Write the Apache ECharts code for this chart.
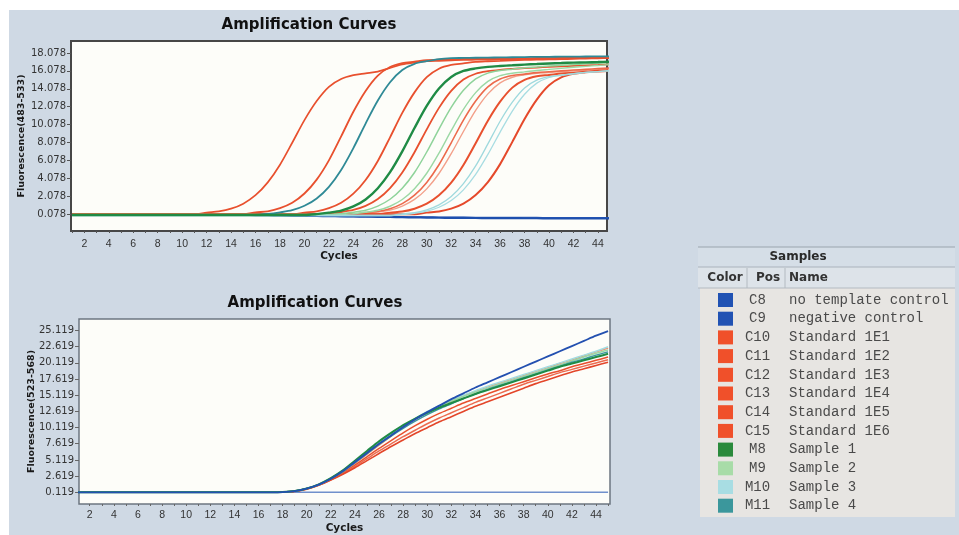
<!DOCTYPE html>
<html>
<head>
<meta charset="utf-8">
<script src="https://cdn.jsdelivr.net/npm/echarts@6/dist/echarts.min.js"></script>
<style>
html,body{margin:0;padding:0;background:#fff;}
#c{width:959px;height:535px;
background:linear-gradient(#fff,#fff) 0 0/100% 10px no-repeat,linear-gradient(#fff,#fff) 0 0/9px 100% no-repeat,#cfd9e4;}
</style>
</head>
<body>
<div id="c"></div>
<script>
// ---------- data ----------
const cycles = [1,2,3,4,5,6,7,8,9,10,11,12,13,14,15,16,17,18,19,20,21,22,23,24,25,26,27,28,29,30,31,32,33,34,35,36,37,38,39,40,41,42,43,44,45];
const xTickLabels = [2,4,6,8,10,12,14,16,18,20,22,24,26,28,30,32,34,36,38,40,42,44];
const topYTicks = [0.078,2.078,4.078,6.078,8.078,10.078,12.078,14.078,16.078,18.078];
const botYTicks = [0.119,2.619,5.119,7.619,10.119,12.619,15.119,17.619,20.119,22.619,25.119];

const samplePos   = ['C8','C9','C10','C11','C12','C13','C14','C15','M8','M9','M10','M11'];
const sampleNames = ['no template control','negative control','Standard 1E1','Standard 1E2','Standard 1E3','Standard 1E4','Standard 1E5','Standard 1E6','Sample 1','Sample 2','Sample 3','Sample 4'];
const sampleColors = ['#2152b3','#2152b3','#f0502a','#f0502a','#f0502a','#f0502a','#f0502a','#f0502a','#2a8a3c','#a8dca8','#a8dde3','#3b979c'];

// Fluorescence (483-533), one value per cycle
const topNTC = [0.08,0.08,0.08,0.08,0.08,0.08,0.08,0.08,0.08,0.08,
 0.08,0.08,0.06,0.04,0.02,0,-0.02,-0.04,-0.06,-0.08,
 -0.1,-0.12,-0.14,-0.16,-0.18,-0.2,-0.22,-0.24,-0.26,-0.28,
 -0.3,-0.31,-0.32,-0.33,-0.34,-0.35,-0.35,-0.36,-0.36,-0.37,
 -0.37,-0.38,-0.38,-0.38,-0.38];
const topNeg = [0.08,0.08,0.08,0.08,0.08,0.08,0.08,0.08,0.08,0.08,
 0.08,0.08,0.08,0.08,0.05,0.02,0,-0.03,-0.05,-0.08,
 -0.1,-0.12,-0.14,-0.15,-0.17,-0.18,-0.2,-0.21,-0.22,-0.23,
 -0.24,-0.25,-0.26,-0.27,-0.27,-0.28,-0.28,-0.29,-0.29,-0.3,
 -0.3,-0.3,-0.31,-0.31,-0.31];
const topA = [0.08,0.08,0.08,0.08,0.08,0.08,0.08,0.08,0.08,0.08,
 0.08,0.27,0.40,0.71,1.27,2.21,3.64,5.61,8.06,10.59,
 12.72,14.30,15.17,15.6,15.8,16.0,16.4,16.8,17.0,17.15,
 17.2,17.25,17.3,17.32,17.34,17.36,17.38,17.4,17.43,17.46,
 17.49,17.52,17.55,17.58,17.6];
const topB = [0.08,0.08,0.08,0.08,0.08,0.08,0.08,0.08,0.08,0.08,
 0.08,0.08,0.08,0.08,0.08,0.29,0.42,0.77,1.37,2.40,
 3.95,6.10,8.77,11.52,13.84,15.56,16.51,16.94,17.11,17.28,
 17.32,17.36,17.4,17.42,17.44,17.46,17.48,17.5,17.52,17.54,
 17.56,17.58,17.6,17.62,17.64];
const topTeal = [0.02,0.02,0.02,0.02,0.02,0.02,0.02,0.02,0.02,0.02,
 0.02,0.02,0.02,0.02,0.02,0.02,0.12,0.30,0.54,1.03,
 1.85,3.15,5.03,7.47,10.2,12.77,14.81,16.17,16.86,17.16,
 17.4,17.5,17.52,17.54,17.56,17.58,17.6,17.62,17.64,17.65,
 17.66,17.67,17.68,17.69,17.7];
const topC = [0.08,0.08,0.08,0.08,0.08,0.08,0.08,0.08,0.08,0.08,
 0.08,0.08,0.08,0.08,0.08,0.08,0.08,0.08,0.08,0.28,
 0.42,0.76,1.36,2.38,3.91,6.03,8.67,11.39,13.68,15.38,
 16.32,16.74,16.91,17.08,17.15,17.2,17.25,17.3,17.33,17.36,
 17.39,17.42,17.45,17.48,17.5];
const topGreen = [0,0,0,0,0,0,0,0,0,0,
 0,0,0,0,0,0,0,0,0,0,
 0.1,0.27,0.5,0.96,1.74,2.99,4.78,7.10,9.71,12.17,
 14.11,15.40,16.07,16.35,16.52,16.62,16.7,16.78,16.84,16.9,
 16.95,17.0,17.03,17.06,17.1];
const topD = [0.08,0.08,0.08,0.08,0.08,0.08,0.08,0.08,0.08,0.08,
 0.08,0.08,0.08,0.08,0.08,0.08,0.08,0.08,0.08,0.08,
 0.08,0.18,0.34,0.57,1.02,1.78,3.00,4.75,7.01,9.56,
 11.95,13.85,15.11,15.76,16.04,16.2,16.3,16.38,16.45,16.52,
 16.58,16.64,16.7,16.75,16.8];
const topLG1 = [0.05,0.05,0.05,0.05,0.05,0.05,0.05,0.05,0.05,0.05,
 0.05,0.05,0.05,0.05,0.05,0.05,0.05,0.05,0.05,0.05,
 0.05,0.05,0.15,0.31,0.54,1.0,1.76,2.98,4.74,7.03,
 9.59,12.0,13.91,15.18,15.83,16.11,16.27,16.42,16.52,16.62,
 16.7,16.78,16.86,16.93,17.0];
const topLG2 = [0.05,0.05,0.05,0.05,0.05,0.05,0.05,0.05,0.05,0.05,
 0.05,0.05,0.05,0.05,0.05,0.05,0.05,0.05,0.05,0.05,
 0.05,0.05,0.05,0.15,0.31,0.53,0.98,1.73,2.93,4.66,
 6.9,9.41,11.78,13.65,14.9,15.54,15.81,15.97,16.12,16.24,
 16.36,16.48,16.58,16.68,16.78];
const topE1 = [0.08,0.08,0.08,0.08,0.08,0.08,0.08,0.08,0.08,0.08,
 0.08,0.08,0.08,0.08,0.08,0.08,0.08,0.08,0.08,0.08,
 0.08,0.08,0.08,0.08,0.27,0.40,0.71,1.27,2.21,3.64,
 5.61,8.06,10.59,12.72,14.30,15.17,15.56,15.72,15.88,15.98,
 16.08,16.17,16.25,16.33,16.4];
const topE2 = [0.08,0.08,0.08,0.08,0.08,0.08,0.08,0.08,0.08,0.08,
 0.08,0.08,0.08,0.08,0.08,0.08,0.08,0.08,0.08,0.08,
 0.08,0.08,0.08,0.08,0.17,0.33,0.55,1.0,1.74,2.92,
 4.63,6.84,9.32,11.66,13.51,14.74,15.37,15.64,15.8,15.9,
 16.0,16.08,16.15,16.22,16.3];
const topF = [0.08,0.08,0.08,0.08,0.08,0.08,0.08,0.08,0.08,0.08,
 0.08,0.08,0.08,0.08,0.08,0.08,0.08,0.08,0.08,0.08,
 0.08,0.08,0.08,0.08,0.08,0.08,0.27,0.39,0.71,1.26,
 2.20,3.61,5.58,8.01,10.52,12.64,14.21,15.07,15.47,15.62,
 15.78,15.88,15.98,16.08,16.15];
const topCy1 = [-0.05,-0.05,-0.05,-0.05,-0.05,-0.05,-0.05,-0.05,-0.05,-0.05,
 -0.05,-0.05,-0.05,-0.05,-0.05,-0.05,-0.05,-0.05,-0.05,-0.05,
 -0.05,-0.05,-0.05,-0.05,-0.05,-0.05,-0.05,0.14,0.27,0.58,
 1.14,2.08,3.51,5.48,7.93,10.46,12.59,14.17,15.04,15.43,
 15.59,15.75,15.9,16.0,16.1];
const topCy2 = [-0.05,-0.05,-0.05,-0.05,-0.05,-0.05,-0.05,-0.05,-0.05,-0.05,
 -0.05,-0.05,-0.05,-0.05,-0.05,-0.05,-0.05,-0.05,-0.05,-0.05,
 -0.05,-0.05,-0.05,-0.05,-0.05,-0.05,-0.05,0.05,0.20,0.43,
 0.87,1.62,2.81,4.53,6.76,9.25,11.6,13.47,14.71,15.34,
 15.61,15.77,15.9,16.0,16.1];
const topG = [0.08,0.08,0.08,0.08,0.08,0.08,0.08,0.08,0.08,0.08,
 0.08,0.08,0.08,0.08,0.08,0.08,0.08,0.08,0.08,0.08,
 0.08,0.08,0.08,0.08,0.08,0.08,0.08,0.08,0.08,0.27,
 0.40,0.72,1.28,2.24,3.68,5.68,8.16,10.72,12.88,14.48,
 15.36,15.76,15.92,16.0,16.08];

// Fluorescence (523-568), one value per cycle
const botNTC = [0.12,0.12,0.12,0.12,0.12,0.12,0.12,0.12,0.12,0.12,
 0.12,0.12,0.12,0.12,0.12,0.12,0.12,0.15,0.3,0.7,
 1.3,2.2,3.4,4.8,6.2,7.6,8.9,10.2,11.4,12.5,
 13.5,14.5,15.4,16.3,17.1,17.9,18.7,19.5,20.3,21.1,
 21.9,22.7,23.5,24.3,25.0];
const botNeg = [0.119,0.119,0.119,0.119,0.119,0.119,0.119,0.119,0.119,0.119,
 0.119,0.119,0.119,0.119,0.119,0.119,0.119,0.119,0.119,0.119,
 0.119,0.119,0.119,0.119,0.119,0.119,0.119,0.119,0.119,0.119,
 0.119,0.119,0.119,0.119,0.119,0.119,0.119,0.119,0.119,0.119,
 0.119,0.119,0.119,0.119,0.119];
const botR1 = [0.12,0.12,0.12,0.12,0.12,0.12,0.12,0.12,0.12,0.12,
 0.12,0.12,0.12,0.12,0.12,0.12,0.12,0.15,0.3,0.7,
 1.3,2.2,3.3,4.6,6.0,7.4,8.8,10.2,11.4,12.5,
 13.4,14.2,15.0,15.7,16.4,17.0,17.6,18.2,18.8,19.4,
 20.0,20.6,21.2,21.8,22.4];
const botR2 = [0.12,0.12,0.12,0.12,0.12,0.12,0.12,0.12,0.12,0.12,
 0.12,0.12,0.12,0.12,0.12,0.12,0.12,0.14,0.28,0.65,
 1.25,2.1,3.1,4.3,5.6,6.9,8.1,9.3,10.4,11.4,
 12.3,13.1,13.9,14.6,15.3,16.0,16.6,17.2,17.8,18.4,
 18.9,19.5,20.0,20.5,21.0];
const botR3 = [0.12,0.12,0.12,0.12,0.12,0.12,0.12,0.12,0.12,0.12,
 0.12,0.12,0.12,0.12,0.12,0.12,0.12,0.13,0.25,0.6,
 1.2,2.0,2.9,3.9,5.0,6.1,7.2,8.2,9.2,10.1,
 11.0,11.8,12.6,13.4,14.1,14.8,15.5,16.2,16.9,17.5,
 18.1,18.7,19.2,19.7,20.2];
const botR4 = [0.12,0.12,0.12,0.12,0.12,0.12,0.12,0.12,0.12,0.12,
 0.12,0.12,0.12,0.12,0.12,0.12,0.12,0.14,0.27,0.62,
 1.22,2.05,3.0,4.1,5.3,6.5,7.6,8.7,9.7,10.7,
 11.6,12.4,13.2,14.0,14.7,15.4,16.1,16.8,17.4,18.0,
 18.6,19.1,19.6,20.1,20.6];
const botGreen = [0.12,0.12,0.12,0.12,0.12,0.12,0.12,0.12,0.12,0.12,
 0.12,0.12,0.12,0.12,0.12,0.12,0.12,0.15,0.3,0.7,
 1.35,2.3,3.5,5.0,6.5,8.0,9.3,10.5,11.5,12.4,
 13.2,13.9,14.6,15.3,15.9,16.5,17.1,17.7,18.3,18.9,
 19.5,20.0,20.5,21.0,21.5];
const botLG = [0.12,0.12,0.12,0.12,0.12,0.12,0.12,0.12,0.12,0.12,
 0.12,0.12,0.12,0.12,0.12,0.12,0.12,0.15,0.3,0.7,
 1.35,2.3,3.5,4.9,6.4,7.9,9.2,10.4,11.5,12.5,
 13.4,14.2,14.9,15.6,16.2,16.8,17.4,18.0,18.6,19.2,
 19.8,20.4,21.0,21.6,22.1];
const botCyan = [0.12,0.12,0.12,0.12,0.12,0.12,0.12,0.12,0.12,0.12,
 0.12,0.12,0.12,0.12,0.12,0.12,0.12,0.15,0.3,0.7,
 1.3,2.25,3.4,4.8,6.2,7.7,9.0,10.3,11.5,12.6,
 13.5,14.3,15.1,15.8,16.5,17.1,17.7,18.3,18.9,19.5,
 20.1,20.7,21.3,21.9,22.6];
const botTeal = [0.12,0.12,0.12,0.12,0.12,0.12,0.12,0.12,0.12,0.12,
 0.12,0.12,0.12,0.12,0.12,0.12,0.12,0.15,0.3,0.7,
 1.3,2.2,3.3,4.7,6.1,7.5,8.8,10.0,11.1,12.1,
 13.0,13.8,14.6,15.3,16.0,16.6,17.2,17.8,18.4,19.0,
 19.6,20.2,20.7,21.3,21.8];

// ---------- series ----------
function mk(name, arr, grid, color, width) {
  return {
    type: 'line', name: name, xAxisIndex: grid, yAxisIndex: grid,
    data: cycles.map((c, i) => [c, arr[i]]),
    showSymbol: false, smooth: 0.3, silent: true,
    lineStyle: { color: color, width: width }, itemStyle: { color: color }
  };
}
const series = [
  mk('negative control', topNeg, 0, '#3a63b8', 1.6),
  mk('no template control', topNTC, 0, '#1d4fae', 2.2),
  mk('Standard 1E2', topE2, 0, '#f3a08a', 1.4),
  mk('Standard 1E2', topE1, 0, '#ec6a4c', 1.6),
  mk('Standard 1E1', topF, 0, '#e8502e', 2.0),
  mk('Standard 1E1', topG, 0, '#e5492b', 2.0),
  mk('Standard 1E3', topD, 0, '#e8502e', 1.8),
  mk('Standard 1E4', topC, 0, '#e8502e', 1.8),
  mk('Standard 1E5', topB, 0, '#e8502e', 1.8),
  mk('Standard 1E6', topA, 0, '#e8502e', 1.7),
  mk('Sample 2', topLG2, 0, '#9bd8a4', 1.4),
  mk('Sample 2', topLG1, 0, '#8fd39a', 1.5),
  mk('Sample 3', topCy2, 0, '#a8dde2', 1.3),
  mk('Sample 3', topCy1, 0, '#9fd9dd', 1.3),
  mk('Sample 4', topTeal, 0, '#2f8a96', 1.8),
  mk('Sample 1', topGreen, 0, '#1f8b45', 2.4),

  mk('negative control', botNeg, 1, '#7090cc', 1.5),
  mk('Standard 1E4', botR1, 1, '#ef8e74', 1.5),
  mk('Standard 1E3', botR2, 1, '#e8502e', 1.5),
  mk('Standard 1E2', botR4, 1, '#ec6b50', 1.5),
  mk('Standard 1E1', botR3, 1, '#e3462a', 1.6),
  mk('Sample 3', botCyan, 1, '#a3dce0', 1.5),
  mk('Sample 2', botLG, 1, '#98d7a4', 1.5),
  mk('Sample 4', botTeal, 1, '#3a95a0', 1.5),
  mk('Sample 1', botGreen, 1, '#1f8b45', 2.0),
  mk('no template control', botNTC, 1, '#2350b0', 1.8)
];

// ---------- axes ----------
const lblX = { customValues: xTickLabels, fontFamily: 'Liberation Sans', fontSize: 10.5, color: '#333' };
const nameStyleX = { fontFamily: 'DejaVu Sans', fontWeight: 'bold', fontSize: 10.5, color: '#1a1a1a' };
const nameStyleY = { fontFamily: 'DejaVu Sans', fontWeight: 'bold', fontSize: 9.5, color: '#1a1a1a' };

const option = {
  animation: false,
  backgroundColor: 'transparent',
  grid: [
    { left: 71, top: 41, width: 536, height: 190, show: true, backgroundColor: '#fdfdf9', borderColor: '#474747', borderWidth: 2 },
    { left: 79, top: 319, width: 531, height: 190, show: true, backgroundColor: '#fdfdf9', borderColor: '#6c7580', borderWidth: 1.5 }
  ],
  xAxis: [
    { gridIndex: 0, type: 'value', min: 0.91, max: 44.74, name: 'Cycles', nameLocation: 'middle', nameGap: 20, nameTextStyle: nameStyleX,
      nameMoveOverlap: false,
      axisLine: { show: false, onZero: false }, splitLine: { show: false },
      axisTick: { show: true, customValues: cycles, length: 2, lineStyle: { color: '#555' } },
      axisLabel: Object.assign({ margin: 8 }, lblX) },
    { gridIndex: 1, type: 'value', min: 1.11, max: 45.16, name: 'Cycles', nameLocation: 'middle', nameGap: 19, nameTextStyle: nameStyleX,
      nameMoveOverlap: false,
      axisLine: { show: false, onZero: false }, splitLine: { show: false },
      axisTick: { show: true, customValues: cycles, length: 2, lineStyle: { color: '#666' } },
      axisLabel: Object.assign({ margin: 6 }, lblX) }
  ],
  yAxis: [
    { gridIndex: 0, type: 'value', min: -1.78, max: 19.41, name: 'Fluorescence(483-533)', nameLocation: 'middle', nameGap: 44, nameTextStyle: nameStyleY,
      nameMoveOverlap: false,
      axisLine: { show: false, onZero: false }, splitLine: { show: false },
      axisTick: { show: true, customValues: topYTicks, length: 4, lineStyle: { color: '#555' } },
      axisLabel: { customValues: topYTicks, margin: 5, fontFamily: 'DejaVu Sans', fontSize: 10, color: '#333', formatter: v => v.toFixed(3) } },
    { gridIndex: 1, type: 'value', min: -1.69, max: 26.88, name: 'Fluorescence(523-568)', nameLocation: 'middle', nameGap: 42, nameTextStyle: nameStyleY,
      nameMoveOverlap: false,
      axisLine: { show: false, onZero: false }, splitLine: { show: false },
      axisTick: { show: true, customValues: botYTicks, length: 4, lineStyle: { color: '#666' } },
      axisLabel: { customValues: botYTicks, margin: 5, fontFamily: 'DejaVu Sans', fontSize: 10, color: '#333', formatter: v => v.toFixed(3) } }
  ],
  legend: {
    orient: 'vertical', left: 718, top: 293, itemWidth: 15, itemHeight: 14, itemGap: 4.7,
    icon: 'rect', selectedMode: false, padding: 0,
    itemStyle: { borderWidth: 0 },
    data: sampleNames.map((n, i) => ({ name: n, itemStyle: { color: sampleColors[i], borderWidth: 0 } })),
    formatter: function (name) {
      const i = sampleNames.indexOf(name);
      return '{p|' + samplePos[i] + '}{n|' + name + '}';
    },
    textStyle: {
      rich: {
        p: { width: 39, align: 'right', fontFamily: 'Liberation Mono', fontSize: 14, color: '#4a4a4a', lineHeight: 14 },
        n: { fontFamily: 'Liberation Mono', fontSize: 14, color: '#4a4a4a', lineHeight: 14, padding: [0, 0, 0, 12] }
      }
    }
  },
  graphic: [
    { type: 'text', x: 309, y: 25, style: { text: 'Amplification Curves', font: 'bold 15px "DejaVu Sans"', fill: '#111', align: 'center', verticalAlign: 'middle' } },
    { type: 'text', x: 315, y: 303, style: { text: 'Amplification Curves', font: 'bold 15px "DejaVu Sans"', fill: '#111', align: 'center', verticalAlign: 'middle' } },
    // samples table
    { type: 'rect', shape: { x: 698, y: 247, width: 257, height: 20 }, style: { fill: '#d5dee7' } },
    { type: 'rect', shape: { x: 698, y: 267, width: 257, height: 21 }, style: { fill: '#dde3e9' } },
    { type: 'rect', shape: { x: 700, y: 288, width: 255, height: 229 }, style: { fill: '#e7e5e2' } },
    { type: 'line', shape: { x1: 698, y1: 247, x2: 955, y2: 247 }, style: { stroke: '#9aa4ae', lineWidth: 1 } },
    { type: 'line', shape: { x1: 698, y1: 267, x2: 955, y2: 267 }, style: { stroke: '#aab3bc', lineWidth: 1 } },
    { type: 'line', shape: { x1: 698, y1: 288, x2: 955, y2: 288 }, style: { stroke: '#b3bac1', lineWidth: 1 } },
    { type: 'line', shape: { x1: 747, y1: 268, x2: 747, y2: 288 }, style: { stroke: '#b3bac1', lineWidth: 1 } },
    { type: 'line', shape: { x1: 785, y1: 268, x2: 785, y2: 288 }, style: { stroke: '#b3bac1', lineWidth: 1 } },
    { type: 'text', x: 798, y: 257, style: { text: 'Samples', font: 'bold 12px "DejaVu Sans"', fill: '#2a2a2a', align: 'center', verticalAlign: 'middle' } },
    { type: 'text', x: 725, y: 278, style: { text: 'Color', font: 'bold 12px "DejaVu Sans"', fill: '#333', align: 'center', verticalAlign: 'middle' } },
    { type: 'text', x: 768, y: 278, style: { text: 'Pos', font: 'bold 12px "DejaVu Sans"', fill: '#333', align: 'center', verticalAlign: 'middle' } },
    { type: 'text', x: 789, y: 278, style: { text: 'Name', font: 'bold 12px "DejaVu Sans"', fill: '#333', align: 'left', verticalAlign: 'middle' } }
  ],
  series: series
};

const chart = echarts.init(document.getElementById('c'), null, { renderer: 'canvas' });
chart.setOption(option);
</script>
</body>
</html>
